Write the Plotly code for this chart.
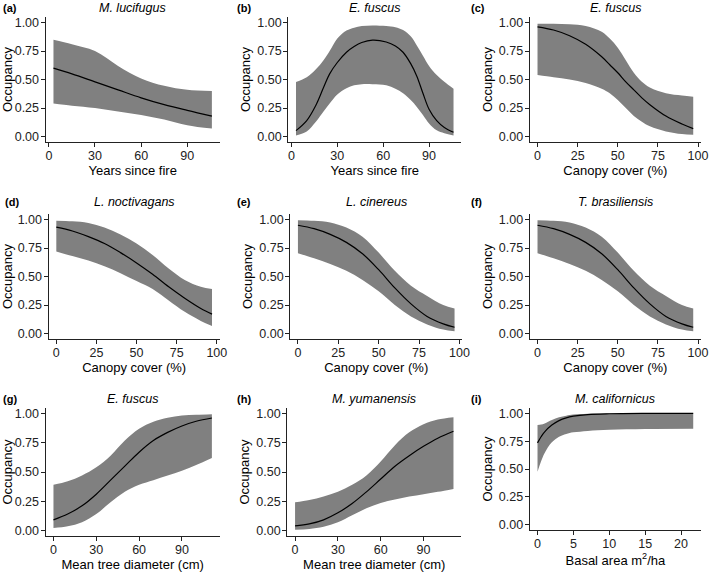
import plotly.graph_objects as go

W, H = 709, 573

# ---------------- data ----------------
a_x = [3, 15, 30, 45, 60, 75, 90, 106]
a_mid = [0.60, 0.55, 0.48, 0.41, 0.34, 0.28, 0.23, 0.18]
a_up = [0.85, 0.81, 0.75, 0.62, 0.51, 0.445, 0.41, 0.40]
a_lo = [0.29, 0.27, 0.25, 0.22, 0.19, 0.15, 0.10, 0.07]

b_x = [3, 10, 16, 21, 25, 30, 36, 41, 46, 53, 62, 68, 73, 78, 82, 86, 90, 95, 100, 106]
b_mid = [0.052, 0.14, 0.275, 0.43, 0.55, 0.65, 0.74, 0.79, 0.825, 0.846, 0.83, 0.795, 0.74, 0.64, 0.53, 0.38, 0.24, 0.14, 0.08, 0.038]
b_up = [0.478, 0.52, 0.59, 0.67, 0.75, 0.86, 0.93, 0.955, 0.97, 0.975, 0.97, 0.96, 0.935, 0.88, 0.80, 0.71, 0.62, 0.54, 0.48, 0.42]
b_lo = [0.01, 0.045, 0.13, 0.22, 0.29, 0.37, 0.425, 0.45, 0.46, 0.46, 0.45, 0.42, 0.38, 0.32, 0.26, 0.19, 0.115, 0.055, 0.03, 0.01]

c_x = [0, 10, 20, 30, 40, 45, 50, 55, 60, 65, 70, 80, 90, 97]
c_mid = [0.963, 0.935, 0.885, 0.81, 0.70, 0.63, 0.56, 0.48, 0.41, 0.34, 0.28, 0.18, 0.11, 0.07]
c_up = [0.99, 0.99, 0.985, 0.97, 0.92, 0.86, 0.78, 0.67, 0.56, 0.48, 0.43, 0.38, 0.36, 0.35]
c_lo = [0.54, 0.52, 0.50, 0.47, 0.42, 0.38, 0.32, 0.25, 0.18, 0.13, 0.09, 0.045, 0.022, 0.015]

d_x = [0, 10, 20, 30, 40, 50, 60, 70, 80, 90, 97]
d_mid = [0.933, 0.90, 0.85, 0.79, 0.71, 0.62, 0.52, 0.41, 0.31, 0.22, 0.17]
d_up = [0.99, 0.985, 0.97, 0.93, 0.87, 0.79, 0.69, 0.57, 0.47, 0.41, 0.39]
d_lo = [0.72, 0.68, 0.64, 0.59, 0.53, 0.46, 0.39, 0.29, 0.19, 0.11, 0.065]

e_x = [0, 10, 20, 30, 40, 50, 60, 70, 80, 90, 97]
e_mid = [0.95, 0.92, 0.87, 0.80, 0.70, 0.56, 0.40, 0.26, 0.15, 0.085, 0.055]
e_up = [0.995, 0.99, 0.975, 0.93, 0.85, 0.71, 0.55, 0.42, 0.33, 0.25, 0.22]
e_lo = [0.705, 0.66, 0.61, 0.55, 0.47, 0.37, 0.25, 0.15, 0.08, 0.035, 0.02]

f_x = [0, 10, 20, 30, 40, 50, 60, 70, 80, 90, 97]
f_mid = [0.95, 0.92, 0.87, 0.80, 0.70, 0.56, 0.40, 0.26, 0.15, 0.085, 0.055]
f_up = [0.995, 0.99, 0.975, 0.93, 0.85, 0.71, 0.55, 0.42, 0.33, 0.25, 0.22]
f_lo = [0.705, 0.66, 0.61, 0.55, 0.47, 0.37, 0.25, 0.15, 0.08, 0.035, 0.02]

g_x = [0, 10, 20, 30, 40, 50, 60, 70, 80, 90, 100, 111]
g_mid = [0.09, 0.14, 0.21, 0.31, 0.43, 0.55, 0.67, 0.77, 0.84, 0.895, 0.935, 0.963]
g_up = [0.39, 0.42, 0.47, 0.54, 0.64, 0.77, 0.87, 0.93, 0.965, 0.985, 0.99, 0.995]
g_lo = [0.02, 0.035, 0.07, 0.14, 0.24, 0.33, 0.39, 0.43, 0.47, 0.51, 0.56, 0.62]

h_x = [0, 10, 20, 30, 40, 50, 60, 70, 80, 90, 100, 111]
h_mid = [0.038, 0.055, 0.09, 0.15, 0.23, 0.33, 0.44, 0.55, 0.64, 0.72, 0.79, 0.85]
h_up = [0.24, 0.26, 0.29, 0.33, 0.39, 0.47, 0.59, 0.73, 0.84, 0.91, 0.95, 0.97]
h_lo = [0.006, 0.012, 0.03, 0.07, 0.13, 0.19, 0.235, 0.265, 0.29, 0.31, 0.33, 0.355]

i_x = [0, 0.5, 1, 2, 3, 4, 5, 7, 10, 15, 21.7]
i_mid = [0.735, 0.79, 0.835, 0.895, 0.935, 0.96, 0.975, 0.99, 0.997, 1.0, 1.0]
i_up = [0.895, 0.90, 0.91, 0.94, 0.965, 0.98, 0.99, 0.997, 0.999, 1.0, 1.0]
i_lo = [0.475, 0.57, 0.645, 0.74, 0.79, 0.815, 0.83, 0.843, 0.853, 0.86, 0.862]

panel_labels = ["(a)", "(b)", "(c)", "(d)", "(e)", "(f)", "(g)", "(h)", "(i)"]
species = ["M. lucifugus", "E. fuscus", "E. fuscus", "L. noctivagans", "L. cinereus",
           "T. brasiliensis", "E. fuscus", "M. yumanensis", "M. californicus"]
x_titles = ["Years since fire", "Years since fire", "Canopy cover (%)",
            "Canopy cover (%)", "Canopy cover (%)", "Canopy cover (%)",
            "Mean tree diameter (cm)", "Mean tree diameter (cm)", "Basal area m<sup>2</sup>/ha"]
x_ticks = [[0, 30, 60, 90], [0, 30, 60, 90], [0, 25, 50, 75, 100],
           [0, 25, 50, 75, 100], [0, 25, 50, 75, 100], [0, 25, 50, 75, 100],
           [0, 30, 60, 90], [0, 30, 60, 90], [0, 5, 10, 15, 20]]
y_ticks = [0, 0.25, 0.5, 0.75, 1.0]
y_title = "Occupancy"

panels = [(a_x, a_mid, a_up, a_lo), (b_x, b_mid, b_up, b_lo), (c_x, c_mid, c_up, c_lo),
          (d_x, d_mid, d_up, d_lo), (e_x, e_mid, e_up, e_lo), (f_x, f_mid, f_up, f_lo),
          (g_x, g_mid, g_up, g_lo), (h_x, h_mid, h_up, h_lo), (i_x, i_mid, i_up, i_lo)]

# ---------------- layout geometry (pixels) ----------------
x_px = [(46, 222), (291, 466), (535, 708),
        (49, 222), (293, 467), (535, 708),
        (46, 222), (290, 466), (535, 708)]
y_px = [(16, 142), (16, 142), (16, 142),
        (214, 340), (214, 340), (214, 340),
        (409, 538), (409, 538), (409, 532)]
label_x = [1, 237, 474, 3, 237, 474, 1, 237, 474]
title_y = [7, 7, 7, 202, 202, 202, 400, 400, 400]

FONT = "Liberation Sans, Arial, sans-serif"
AX = "#222222"
GREY = "#808080"

fig = go.Figure()
layout = dict(width=W, height=H, margin=dict(l=0, r=0, t=0, b=0),
              paper_bgcolor="white", plot_bgcolor="white", showlegend=False,
              font=dict(family=FONT, color="black"))
annotations = []

for k, (xs, mid, up, lo) in enumerate(panels):
    n = k + 1
    xa = "x" if n == 1 else f"x{n}"
    ya = "y" if n == 1 else f"y{n}"
    fig.add_trace(go.Scatter(x=xs, y=lo, mode="lines", line=dict(width=0, shape="spline", color=GREY),
                             xaxis=xa, yaxis=ya, hoverinfo="skip"))
    fig.add_trace(go.Scatter(x=xs, y=up, mode="lines", line=dict(width=0, shape="spline", color=GREY),
                             fill="tonexty", fillcolor=GREY, xaxis=xa, yaxis=ya, hoverinfo="skip"))
    fig.add_trace(go.Scatter(x=xs, y=mid, mode="lines", line=dict(width=1.2, shape="spline", color="black"),
                             xaxis=xa, yaxis=ya))
    lo_x, hi_x = min(xs), max(xs)
    pad = 0.05 * (hi_x - lo_x)
    x0, x1 = x_px[k]
    y0, y1 = y_px[k]
    common = dict(showgrid=False, zeroline=False, showline=True, linecolor=AX, linewidth=1,
                  ticks="outside", ticklen=4, tickcolor=AX, tickwidth=1,
                  tickfont=dict(size=12.5, color="#222222", family=FONT))
    layout["xaxis" if n == 1 else f"xaxis{n}"] = dict(
        common, domain=[x0 / W, x1 / W], anchor=ya, range=[lo_x - pad, hi_x + pad],
        tickvals=x_ticks[k], ticklabelstandoff=-2,
        title=dict(text=x_titles[k], font=dict(size=13, family=FONT), standoff=3))
    layout["yaxis" if n == 1 else f"yaxis{n}"] = dict(
        common, domain=[1 - y1 / H, 1 - y0 / H], anchor=xa, range=[-0.05, 1.05],
        tickvals=y_ticks, tickformat=".2f", ticklabelstandoff=-1,
        title=dict(text=y_title, font=dict(size=13, family=FONT), standoff=3))
    annotations.append(dict(text=f"<i>{species[k]}</i>", x=(x0 + x1) / 2 / W, y=1 - title_y[k] / H,
                            xref="paper", yref="paper", showarrow=False, xanchor="center", yanchor="middle",
                            font=dict(size=12.5, family=FONT)))
    annotations.append(dict(text=f"<b>{panel_labels[k]}</b>", x=label_x[k] / W, y=1 - title_y[k] / H,
                            xref="paper", yref="paper", showarrow=False, xanchor="left", yanchor="middle",
                            font=dict(size=11, family=FONT)))

layout["annotations"] = annotations
fig.update_layout(**layout)
fig.write_html("out.html", config={"displayModeBar": False},
               post_script="document.body.style.margin='0';document.body.style.overflow='hidden';")
